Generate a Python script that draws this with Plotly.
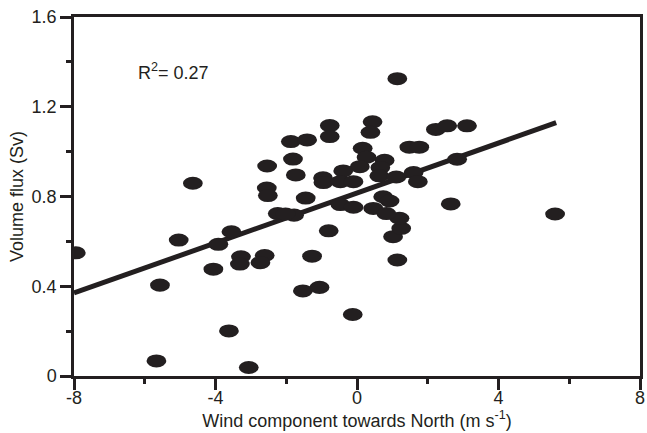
import plotly.graph_objects as go

# Northward wind component (m s-1) and volume flux (Sv) for each observation
wind = [-7.95, -5.57, -5.67, -5.04, -4.64, -3.92, -3.55, -4.06, -3.28, -3.31,
        -3.62, -3.06, -1.53, -1.06, -0.12, -2.61, -2.73, -1.27, -0.80, 1.14,
        1.02, 1.25, 1.20, -2.24, -1.78, -0.47, -0.10, 0.46, 0.83, 0.74,
        0.92, 1.14, -0.77, -0.77, 0.44, 0.38, -1.87, -1.41, -1.81, -2.54,
        -1.73, -2.55, -2.52, -1.45, 0.16, 0.27, 0.08, -0.39, -0.96, -0.95,
        -0.47, -0.10, 0.78, 0.66, 0.63, 1.11, 1.60, 1.72, 1.48, 1.76,
        2.23, 2.55, 3.11, 2.83, 2.65, 5.60, -2.02]
flux = [0.549, 0.405, 0.067, 0.606, 0.859, 0.587, 0.643, 0.476, 0.531, 0.499,
        0.201, 0.038, 0.379, 0.395, 0.274, 0.537, 0.505, 0.534, 0.647, 0.517,
        0.621, 0.658, 0.703, 0.724, 0.717, 0.764, 0.752, 0.747, 0.724, 0.799,
        0.780, 1.325, 1.116, 1.067, 1.133, 1.086, 1.045, 1.052, 0.967, 0.936,
        0.896, 0.838, 0.804, 0.793, 1.015, 0.975, 0.933, 0.914, 0.883, 0.862,
        0.866, 0.866, 0.961, 0.929, 0.892, 0.887, 0.907, 0.866, 1.020, 1.020,
        1.099, 1.115, 1.115, 0.966, 0.767, 0.722, 0.722]

# Least-squares line end points
fit_x = [-8.0, 5.63]
fit_y = [0.370, 1.129]

x_ticks = [-8, -4, 0, 4, 8]
y_ticks = [0, 0.4, 0.8, 1.2, 1.6]

INK = "#231f20"
FONT = "Liberation Sans, Arial, sans-serif"
FS = 18

# elliptical marker half-axes in data units
RX, RY = 0.28, 0.029

fig = go.Figure()
fig.add_trace(go.Scatter(x=fit_x, y=fit_y, mode="lines",
                         line=dict(color=INK, width=5), hoverinfo="skip",
                         showlegend=False))
fig.add_trace(go.Scatter(x=wind, y=flux, mode="markers",
                         marker=dict(size=1, opacity=0), showlegend=False))

for xv, yv in zip(wind, flux):
    fig.add_shape(type="circle", xref="x", yref="y",
                  x0=xv - RX, x1=xv + RX, y0=yv - RY, y1=yv + RY,
                  fillcolor=INK, line=dict(width=0), layer="above")

fig.add_annotation(x=-6.25, y=1.355, xref="x", yref="y",
                   text="R<sup>2</sup>= 0.27", showarrow=False,
                   xanchor="left", yanchor="middle",
                   font=dict(family=FONT, size=FS, color=INK))

axis_common = dict(showgrid=False, zeroline=False, showline=True,
                   linecolor=INK, linewidth=2.5, mirror=True,
                   ticks="outside", ticklen=11, tickwidth=2.5, tickcolor=INK,
                   ticklabeloverflow="allow",
                   tickfont=dict(family=FONT, size=FS, color=INK))

fig.update_xaxes(range=[-8, 8], tickvals=x_ticks,
                 ticktext=[str(v) for v in x_ticks],
                 ticklabelstandoff=-7,
                 minor=dict(dtick=2, tick0=0, ticks="outside", ticklen=5,
                            tickwidth=2.5, tickcolor=INK),
                 title=dict(text="Wind component towards North (m s<sup>-1</sup>)",
                            font=dict(family=FONT, size=FS, color=INK),
                            standoff=2),
                 **axis_common)
fig.update_yaxes(range=[0, 1.6], tickvals=y_ticks,
                 ticktext=["0", "0.4", "0.8", "1.2", "1.6"],
                 minor=dict(dtick=0.2, tick0=0, ticks="outside", ticklen=5,
                            tickwidth=2.5, tickcolor=INK),
                 title=dict(text="Volume flux (Sv)",
                            font=dict(family=FONT, size=FS, color=INK),
                            standoff=4),
                 **axis_common)

fig.update_layout(width=647, height=433,
                  margin=dict(l=74, r=2, t=17, b=57),
                  plot_bgcolor="white", paper_bgcolor="white",
                  showlegend=False)

fig.write_html("out.html")
